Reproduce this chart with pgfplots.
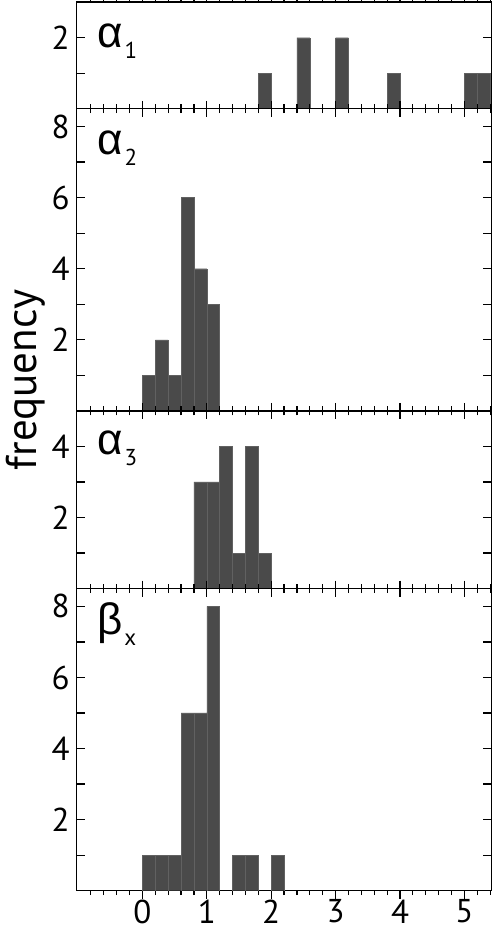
\documentclass[border=0pt]{standalone}
\usepackage{fontspec}
\setmainfont{PT Sans}
\newfontfamily\greekfont{Liberation Sans}
\usepackage{pgfplots}
\pgfplotsset{compat=1.18}

\definecolor{barc}{HTML}{4A4A4A}

\newcommand{\panellab}[2]{{\greekfont\fontsize{22}{22}\selectfont #1}\hspace{1pt}\raisebox{-5.5pt}{\fontsize{11.5}{12}\selectfont #2}}

\pgfplotsset{
  hist/.style={
    x=32.2pt, y=17.77pt,
    xmin=-1.02, xmax=5.42, ymin=0,
    anchor=south west,
    axis line style={line width=0.7pt},
    tick style={line width=0.6pt, black},
    tick align=inside,
    major tick length=4pt, minor tick length=2.2pt,
    xtick={0,...,5}, xticklabels={},
    minor xtick={-0.8,-0.6,...,5.41},
    tick label style={font=\fontsize{16.5}{18}\selectfont},
    xticklabel style={yshift=3pt},
    ybar, bar width=0.2,
  },
  bars/.style={fill=barc, draw=black!62, line width=0.2pt},
}

\begin{document}
\begin{tikzpicture}
\useasboundingbox (0,0) rectangle (249pt,467.5pt);

% alpha_1
\begin{axis}[hist, at={(38.35pt,413.1pt)}, ymax=3,
    ytick={1,2}, yticklabels={,2}]
\addplot[bars] coordinates {(1.9,1) (2.5,2) (3.1,2) (3.9,1) (5.1,1) (5.3,1)};
\node[anchor=base west, inner sep=0pt, xshift=10pt, yshift=-22.5pt] at (rel axis cs:0,1) {\panellab{α}{1}};
\end{axis}

% alpha_2
\begin{axis}[hist, at={(38.35pt,262.05pt)}, ymax=8.5,
    ytick={1,...,8}, yticklabels={,2,,4,,6,,8}]
\addplot[bars] coordinates {(0.1,1) (0.3,2) (0.5,1) (0.7,6) (0.9,4) (1.1,3)};
\node[anchor=base west, inner sep=0pt, xshift=10pt, yshift=-23pt] at (rel axis cs:0,1) {\panellab{α}{2}};
\end{axis}

% alpha_3
\begin{axis}[hist, at={(38.35pt,173.2pt)}, ymax=5,
    ytick={1,...,4}, yticklabels={,2,,4}]
\addplot[bars] coordinates {(0.9,3) (1.1,3) (1.3,4) (1.5,1) (1.7,4) (1.9,1)};
\node[anchor=base west, inner sep=0pt, xshift=10pt, yshift=-22pt] at (rel axis cs:0,1) {\panellab{α}{3}};
\end{axis}

% beta_x
\begin{axis}[hist, at={(38.35pt,22.15pt)}, ymax=8.5,
    ytick={1,...,8}, yticklabels={,2,,4,,6,,8},
    xticklabels={0,1,2,3,4,5}]
\addplot[bars] coordinates {(0.1,1) (0.3,1) (0.5,1) (0.7,5) (0.9,5) (1.1,8) (1.5,1) (1.7,1) (2.1,1)};
\node[anchor=base west, inner sep=0pt, xshift=10pt, yshift=-23pt] at (rel axis cs:0,1) {\panellab{β}{x}};
\end{axis}

\node[rotate=90, font=\fontsize{21.5}{24}\selectfont] at (12.75pt,277.5pt) {frequency};
\end{tikzpicture}
\end{document}
